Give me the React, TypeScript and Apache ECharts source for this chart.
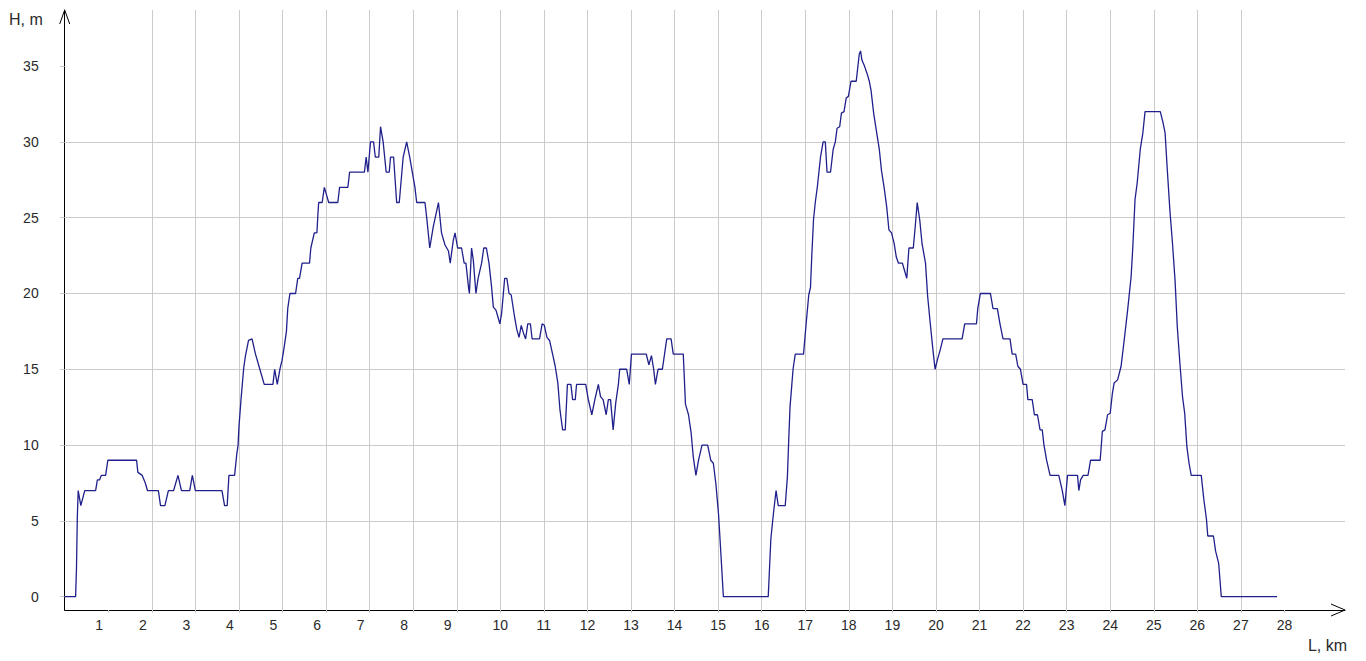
import { useEffect, useRef } from 'react';
import * as echarts from 'echarts';

// Distance along the profile, km
const distanceKm = [
  0, 0.25, 0.27, 0.29, 0.31, 0.37, 0.46, 0.71, 0.75, 0.8,
  0.84, 0.94, 0.99, 1.65, 1.68, 1.78, 1.85, 1.9, 2.15, 2.2,
  2.3, 2.38, 2.5, 2.6, 2.68, 2.87, 2.93, 3.0,
  3.61, 3.67, 3.73, 3.77, 3.9, 3.95, 3.98, 4.0, 4.05, 4.11,
  4.15, 4.22, 4.3, 4.38, 4.48, 4.58, 4.78, 4.82, 4.88, 4.94,
  4.99, 5.04, 5.09, 5.12, 5.17, 5.3,
  5.35, 5.39, 5.45, 5.62, 5.65, 5.73, 5.79, 5.81, 5.83, 5.91,
  5.96, 6.0, 6.06, 6.27, 6.31, 6.5, 6.54, 6.88, 6.92, 6.96,
  7.02, 7.09, 7.13, 7.21, 7.25, 7.31, 7.38, 7.45, 7.48, 7.55,
  7.62, 7.68, 7.77, 7.85, 7.92, 8.04, 8.08, 8.27, 8.31, 8.38,
  8.46, 8.58,
  8.65, 8.73, 8.81, 8.85, 8.92, 8.96, 9.02, 9.11, 9.17, 9.21,
  9.27, 9.29, 9.34, 9.38, 9.44, 9.49, 9.57, 9.62, 9.68, 9.74,
  9.8, 9.84, 9.9, 9.95, 9.99, 10.03, 10.1, 10.15, 10.2, 10.25,
  10.33, 10.38, 10.43, 10.48, 10.53, 10.58, 10.63, 10.69, 10.73, 10.9,
  10.96, 11.01, 11.07,
  11.13, 11.2, 11.26, 11.32, 11.37, 11.43, 11.49, 11.54, 11.62, 11.66,
  11.72, 11.75, 11.96, 12.02, 12.1, 12.17, 12.25, 12.3, 12.36, 12.43,
  12.48, 12.53, 12.59, 12.65, 12.71, 12.74, 12.9, 12.96, 13.01, 13.35,
  13.41, 13.47, 13.52, 13.56, 13.62, 13.72, 13.77, 13.82, 13.92, 13.97,
  14.2, 14.25, 14.32, 14.38, 14.43, 14.49, 14.55, 14.63, 14.76, 14.83,
  14.89, 14.95, 15.01, 15.06, 15.12,
  16.15, 16.21, 16.27, 16.33, 16.38, 16.54, 16.59, 16.62, 16.65, 16.72,
  16.77, 16.96, 17.02, 17.08, 17.12, 17.15, 17.19, 17.23, 17.28, 17.35,
  17.41, 17.46, 17.5, 17.58, 17.64, 17.69, 17.73, 17.79, 17.83, 17.89,
  17.94, 17.99, 18.05, 18.17, 18.24, 18.27, 18.3, 18.36, 18.42, 18.47,
  18.51, 18.57, 18.64, 18.7, 18.75, 18.81, 18.87, 18.92, 18.98, 19.04,
  19.09, 19.14, 19.23, 19.28, 19.33, 19.38, 19.48, 19.53, 19.57, 19.63,
  19.68, 19.76, 19.81, 19.87, 19.93, 19.98, 20.04, 20.1,
  20.16, 20.6, 20.66, 20.93, 20.96, 21.02, 21.25, 21.31, 21.41, 21.47,
  21.54, 21.7, 21.75, 21.83, 21.88, 21.94, 22.0, 22.08, 22.11, 22.21,
  22.26, 22.33, 22.39, 22.44, 22.48, 22.54, 22.62, 22.82, 22.9, 22.96,
  23.02, 23.25, 23.28, 23.32, 23.38, 23.49, 23.55, 23.77, 23.82, 23.88,
  23.94, 24.0, 24.05, 24.09, 24.17, 24.25, 24.32, 24.4, 24.44, 24.48,
  24.52, 24.57, 24.62, 24.69, 24.75, 24.8, 25.15, 25.21, 25.26, 25.31,
  25.37, 25.43, 25.49, 25.54, 25.6, 25.66, 25.71, 25.76, 25.81, 25.86,
  26.09, 26.15, 26.21, 26.24, 26.37, 26.42, 26.49, 26.55, 27.83,
];

// Height, m
const heightM = [
  0, 0, 1.8, 5.3, 7, 6, 7, 7, 7.7, 7.7,
  8, 8, 9, 9, 8.2, 8, 7.5, 7, 7, 6,
  6, 7, 7, 8, 7, 7, 8, 7,
  7, 6, 6, 8, 8, 9.4, 10, 11.2, 13.1, 15.1,
  15.9, 16.9, 17, 16, 15, 14, 14, 15, 14, 15,
  15.6, 16.5, 17.5, 19, 20, 20,
  21, 21, 22, 22, 23, 24, 24, 25.1, 26, 26,
  27, 26.6, 26, 26, 27, 27, 28, 28, 29, 28,
  30, 30, 29, 29, 31, 30, 28, 28, 29, 29,
  26, 26, 29, 30, 29, 27, 26, 26, 25, 23,
  24.4, 26,
  24, 23.2, 22.8, 22, 23.5, 24, 23, 23, 22, 22,
  20.4, 20, 23, 22.2, 20, 21, 22, 23, 23, 22,
  20.4, 19.1, 18.9, 18.4, 18, 18.7, 21, 21, 20, 19.9,
  18.4, 17.6, 17.1, 17.9, 17.4, 17, 18, 18, 17, 17,
  18, 17.9, 17.1,
  16.9, 16, 15.2, 14.1, 12.3, 11, 11, 14, 14, 13,
  13, 14, 14, 13, 12, 13, 14, 13.2, 13, 12,
  13, 13, 11, 12.8, 14, 15, 15, 14, 16, 16,
  15.3, 15.9, 15, 14, 15, 15, 16, 17, 17, 16,
  16, 12.7, 12, 10.8, 9.2, 8, 9, 10, 10, 9,
  8.8, 7.4, 5.4, 3, 0,
  0, 3.8, 5.5, 7, 6, 6, 7.9, 10.3, 12.5, 15,
  16, 16, 18, 19.9, 20.4, 22.5, 24.9, 26, 27.1, 29,
  30, 30, 28, 28, 29.5, 30, 30.9, 31, 31.9, 32,
  32.9, 33, 34, 34, 35.8, 36, 35.4, 35, 34.5, 34,
  33.4, 31.9, 30.6, 29.5, 28.1, 27, 25.7, 24.2, 24, 23.3,
  22.4, 22, 22, 21.5, 21, 23, 23, 24.6, 26, 24.8,
  23.3, 22, 19.8, 18, 16.3, 15, 15.7, 16.3,
  17, 17, 18, 18, 19, 20, 20, 19, 19, 18,
  17, 17, 16, 16, 15.2, 15, 14, 14, 13, 13,
  12, 12, 11, 11, 10, 9, 8, 8, 7, 6,
  8, 8, 7, 7.7, 8, 8, 9, 9, 10.9, 11,
  12, 12.1, 13.4, 14.1, 14.3, 15.2, 16.9, 18.9, 20, 21.1,
  23.1, 26.2, 27.3, 29.5, 30.6, 32, 32, 31.3, 30.6, 28.2,
  25.5, 23.3, 20.8, 17.8, 15.4, 13.2, 12.1, 9.9, 8.8, 8,
  8, 6.4, 5.1, 4, 4, 3, 2.2, 0, 0,
];

const xTickValues = [
  1, 2, 3, 4, 5, 6, 7, 8, 9, 10, 11, 12, 13, 14,
  15, 16, 17, 18, 19, 20, 21, 22, 23, 24, 25, 26, 27, 28,
];
const yTickValues = [0, 5, 10, 15, 20, 25, 30, 35];
const xAxisTitle = 'L, km';
const yAxisTitle = 'H, m';

const X_MIN = 0;
const X_MAX = 29.39;
const Y_MIN = -0.88;
const Y_MAX = 38.7;

export default function App() {
  const ref = useRef<HTMLDivElement>(null);

  useEffect(() => {
    const el = ref.current;
    if (!el) return;
    const chart = echarts.init(el, null, { renderer: 'svg' });
    const font = '"Liberation Sans", Arial, sans-serif';
    const gridColor = '#cbcbcb';
    const textColor = '#2a2a2a';

    chart.setOption({
      animation: false,
      backgroundColor: '#ffffff',
      grid: { left: 64.7, right: 21, top: 10, bottom: 51, containLabel: false },
      xAxis: {
        type: 'value',
        min: X_MIN,
        max: X_MAX,
        minInterval: 1,
        maxInterval: 1,
        axisLine: { show: true, onZero: false, lineStyle: { color: '#000', width: 1 } },
        axisTick: {
          show: true,
          length: 3,
          customValues: xTickValues,
          lineStyle: { color: gridColor, width: 1 },
        },
        axisLabel: {
          customValues: xTickValues,
          margin: 8,
          color: textColor,
          fontFamily: font,
          fontSize: 14,
          formatter: (v: number) => (v < 10 ? `{one|${v}}` : `${v}`),
          rich: {
            one: {
              color: textColor,
              fontFamily: font,
              fontSize: 14,
              padding: [0, 18, 0, 0],
            },
          },
        },
        splitLine: {
          show: true,
          showMinLine: false,
          showMaxLine: false,
          lineStyle: { color: gridColor, width: 1 },
        },
      },
      yAxis: {
        type: 'value',
        min: Y_MIN,
        max: Y_MAX,
        minInterval: 5,
        maxInterval: 5,
        axisLine: { show: true, onZero: false, lineStyle: { color: '#000', width: 1 } },
        axisTick: {
          show: true,
          length: 5,
          customValues: yTickValues,
          lineStyle: { color: gridColor, width: 1 },
        },
        axisLabel: {
          customValues: yTickValues,
          margin: 26,
          color: textColor,
          fontFamily: font,
          fontSize: 14,
        },
        splitLine: {
          show: true,
          showMinLine: false,
          showMaxLine: false,
          lineStyle: { color: gridColor, width: 1 },
        },
      },
      series: [
        {
          type: 'line',
          data: distanceKm.map((d, i) => [d, heightM[i]]),
          showSymbol: false,
          symbol: 'none',
          lineStyle: { color: '#20208c', width: 1.3 },
          z: 5,
        },
      ],
    });

    const origin = chart.convertToPixel({ gridIndex: 0 }, [X_MIN, Y_MIN]) as number[];
    const topEnd = chart.convertToPixel({ gridIndex: 0 }, [X_MIN, Y_MAX]) as number[];
    const rightEnd = chart.convertToPixel({ gridIndex: 0 }, [X_MAX, Y_MIN]) as number[];

    chart.setOption({
      graphic: [
        {
          type: 'polyline',
          shape: {
            points: [
              [topEnd[0] - 5, topEnd[1] + 14],
              [topEnd[0], topEnd[1]],
              [topEnd[0] + 5, topEnd[1] + 14],
            ],
          },
          style: { stroke: '#000', fill: 'none', lineWidth: 1 },
          z: 10,
        },
        {
          type: 'polyline',
          shape: {
            points: [
              [rightEnd[0] - 14, origin[1] - 6],
              [rightEnd[0], origin[1]],
              [rightEnd[0] - 14, origin[1] + 6],
            ],
          },
          style: { stroke: '#000', fill: 'none', lineWidth: 1 },
          z: 10,
        },
        {
          type: 'text',
          style: {
            text: yAxisTitle,
            x: 9,
            y: topEnd[1] + 9,
            fill: textColor,
            font: '16px "Liberation Sans", Arial, sans-serif',
            textAlign: 'left',
            textVerticalAlign: 'middle',
          },
        },
        {
          type: 'text',
          style: {
            text: xAxisTitle,
            x: rightEnd[0] + 2,
            y: origin[1] + 35,
            fill: textColor,
            font: '16px "Liberation Sans", Arial, sans-serif',
            textAlign: 'right',
            textVerticalAlign: 'middle',
          },
        },
      ],
    });

    return () => chart.dispose();
  }, []);

  return (
    <div
      ref={ref}
      style={{ position: 'fixed', left: 0, top: 0, width: 1366, height: 661, background: '#fff' }}
    />
  );
}
